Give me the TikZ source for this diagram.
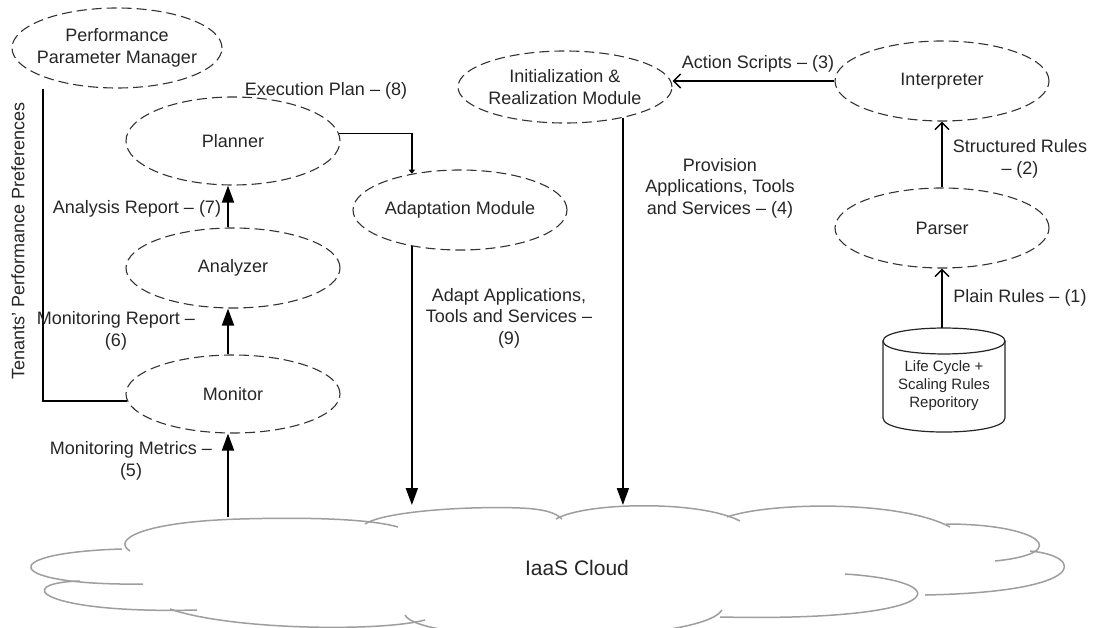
\documentclass[tikz,border=0pt]{standalone}
\usepackage{fontspec}
\setmainfont{Liberation Sans}
\usetikzlibrary{shapes.geometric,arrows.meta,calc}

\begin{document}
\begin{tikzpicture}[x=1pt,y=-1pt,
  proc/.style={draw=black!80, dash pattern=on 10pt off 5pt, line width=1.1pt,
    ellipse, inner sep=0pt},
  lbl/.style={align=center, inner sep=0pt, text=black!85,
    font=\fontsize{18}{21.5}\selectfont},
  flow/.style={line width=1.8pt, -{Triangle[length=17pt,width=12pt]}},
  feed/.style={line width=1.5pt, -{Straight Barb[length=7pt,width=14pt]}},
  link/.style={line width=1.8pt},
  tick/.style={line width=1.8pt, -{Triangle[length=4pt,width=6pt]}},
  lobe/.style={draw=black!38, line width=1.5pt},
  tank/.style={draw=black!85, line width=1.2pt}
]
\useasboundingbox (0,0) rectangle (1093,628);

% ---------- IaaS cloud ----------
\fill[white] (130,551) -- (240,519) -- (560,510) -- (840,505) -- (1040,540)
  -- (1067,568) -- (925,600) -- (720,620) -- (410,640) -- (170,612)
  -- (53,595) -- (30,565) -- cycle;
\path[lobe] (130,551) .. controls (112,540) and (140,522) .. (240,519)
  .. controls (310,517) and (370,519) .. (398,527);
\path[lobe] (365,524) .. controls (385,511) and (470,506) .. (520,508)
  .. controls (545,509) and (556,513) .. (562,519);
\path[lobe] (556,519) .. controls (585,502) and (700,500) .. (740,521);
\path[lobe] (727,517) .. controls (770,502) and (900,500) .. (950,527);
\path[lobe] (946,524) .. controls (1040,524) and (1075,553) .. (995,561);
\path[lobe] (1030,551) .. controls (1085,556) and (1090,592) .. (925,595);
\path[lobe] (845,574) .. controls (965,582) and (945,622) .. (720,617);
\path[lobe] (722,610) .. controls (700,645) and (420,645) .. (405,615);
\path[lobe] (425,620) .. controls (380,632) and (230,630) .. (170,609);
\path[lobe] (197,610) .. controls (40,614) and (10,583) .. (80,581);
\path[lobe] (143,584) .. controls (5,586) and (-10,553) .. (122,549);
\node[lbl, font=\fontsize{21}{25}\selectfont] (cloud) at (577,568) {IaaS Cloud};

% ---------- component ellipses ----------
\node[proc, minimum width=210pt, minimum height=80pt] (ppm) at (117,48) {};
\node[lbl] at (ppm) {Performance\\Parameter Manager};
\node[proc, minimum width=214pt, minimum height=88pt] (planner) at (233,141) {};
\node[lbl] at (planner) {Planner};
\node[proc, minimum width=214pt, minimum height=80pt] (analyzer) at (233,268) {};
\node[lbl] at (analyzer) {Analyzer};
\node[proc, minimum width=214pt, minimum height=78pt] (monitor) at (233,394) {};
\node[lbl] at (monitor) {Monitor};
\node[proc, minimum width=214pt, minimum height=80pt] (adapt) at (460,210) {};
\node[lbl] at (adapt) {Adaptation Module};
\node[proc, minimum width=214pt, minimum height=72pt] (init) at (565,87) {};
\node[lbl] at (init) {Initialization \&\\Realization Module};
\node[proc, minimum width=214pt, minimum height=80pt] (interp) at (942,81) {};
\node[lbl] at (interp) {Interpreter};
\node[proc, minimum width=214pt, minimum height=80pt] (parser) at (942,228) {};
\node[lbl] at (parser) {Parser};

% ---------- rules repository (cylinder) ----------
\path[tank, fill=white] (883,341) -- (883,418)
  .. controls (883,436.7) and (1005,436.7) .. (1005,418) -- (1005,341);
\path[tank] (883,341) .. controls (883,323.7) and (1005,323.7) .. (1005,341)
  .. controls (1005,358.3) and (883,358.3) .. (883,341);
\node[lbl, font=\fontsize{15}{18}\selectfont] (repo) at (944,386)
  {Life Cycle +\\Scaling Rules\\Reporitory};
\coordinate (repotop) at (942,328);

% ---------- connector end points on the cloud ----------
\coordinate (metricsfoot) at (228,517);
\coordinate (adaptfoot) at (413,505);
\coordinate (provfoot) at (624,505);

% ---------- connectors ----------
\draw[feed] (repotop) -- (parser.south);
\draw[feed] (parser.north) -- (interp.south);
\draw[feed] (interp.west) -- (interp.west -| init.east);
\draw[flow] (init.-28) -- (init.-28 |- provfoot);
\draw[flow] (adapt.-143) -- (adapt.-143 |- adaptfoot);
\draw[tick] (planner.4) -| (adapt.143);
\draw[flow] (metricsfoot) -- (monitor.south -| metricsfoot);
\draw[flow] (monitor.north -| metricsfoot) -- (analyzer.south -| metricsfoot);
\draw[flow] (analyzer.north -| metricsfoot) -- (planner.south -| metricsfoot);
\draw[link] (monitor.184) -| (ppm.south -| 43,0);

% ---------- connector labels ----------
\node[lbl] (l1) at (1020,298) {Plain Rules – (1)};
\node[lbl] (l2) at (1020,159) {Structured Rules\\– (2)};
\node[lbl] (l3) at (758,64) {Action Scripts – (3)};
\node[lbl] (l4) at (720,188) {Provision\\Applications, Tools\\and Services – (4)};
\node[lbl] (l5) at (131,461) {Monitoring Metrics –\\(5)};
\node[lbl] (l6) at (116,331) {Monitoring Report –\\(6)};
\node[lbl] (l7) at (137,209) {Analysis Report – (7)};
\node[lbl] (l8) at (326,91) {Execution Plan – (8)};
\node[lbl] (l9) at (509,318) {Adapt Applications,\\Tools and Services –\\(9)};
\node[lbl, rotate=90] (lpref) at (18,241) {Tenants' Performance Preferences};
\end{tikzpicture}
\end{document}
